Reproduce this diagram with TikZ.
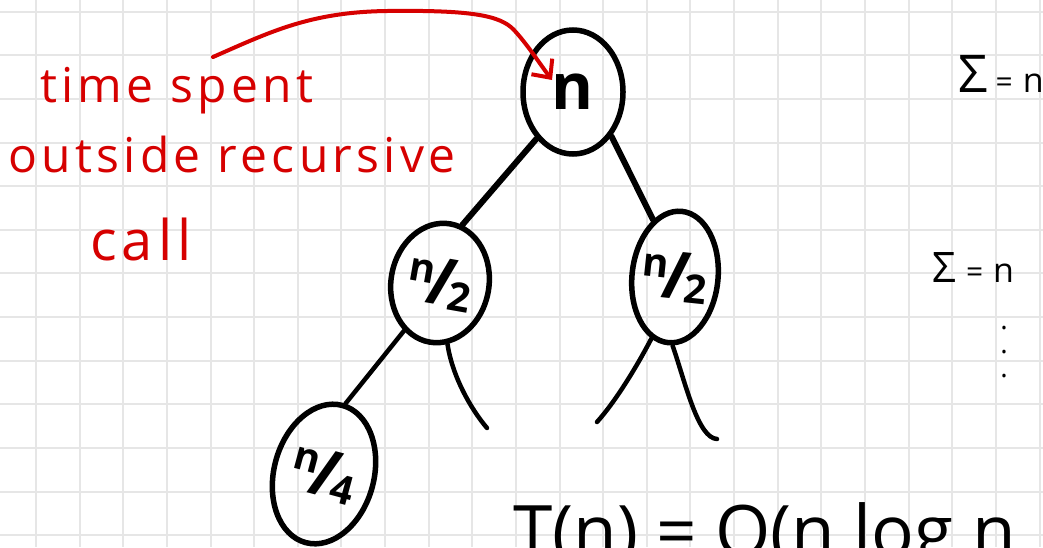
\documentclass[tikz,border=0pt]{standalone}
\usepackage{fontspec}
\setmainfont{Open Sans}
\newfontfamily\handfont[LetterSpace=9]{Open Sans}
\usetikzlibrary{arrows.meta, shapes.geometric}
\definecolor{penred}{RGB}{214,0,0}
\definecolor{gridgray}{RGB}{230,230,230}
\newcommand{\slashfrac}[2]{\makebox[0pt]{\raisebox{0.32em}{\fontsize{40}{40}\selectfont #1}\kern-0.08em{\fontsize{66}{66}\selectfont /}\kern-0.08em\raisebox{-0.04em}{\fontsize{40}{40}\selectfont #2}}}

\begin{document}
\begin{tikzpicture}[x=1pt, y=-1pt,
    vertex/.style={ellipse, draw, line width=5.5pt, inner sep=0pt,
        font=\bfseries\fontsize{64}{64}\selectfont},
    edge/.style={line width=6pt, line cap=round},
    twig/.style={line width=4.5pt, line cap=round},
    note/.style={anchor=base west, inner sep=0pt, text=penred,
        font=\handfont\fontsize{48}{48}\selectfont},
    callout/.style={-{Straight Barb[length=14pt, width=26pt]}, line width=4pt,
        color=penred, line cap=round},
    gridline/.style={gridgray, line width=2pt}
]
\useasboundingbox (0,0) rectangle (1043,547);
\clip (0,0) rectangle (1043,547);
\fill[white] (0,0) rectangle (1043,547);
\foreach \i in {0,...,23} \draw[gridline] ({36+43.63*\i},0) -- ({36+43.63*\i},547);
\foreach \j in {0,...,12} \draw[gridline] (0,{11.7+43.63*\j}) -- (1043,{11.7+43.63*\j});

% recursion tree
\node[vertex, minimum width=100pt, minimum height=124pt] (root) at (573,92) {n};
\node[vertex, minimum width=98pt, minimum height=120pt, rotate=-10] (left) at (440,283) {\slashfrac{n}{2}};
\node[vertex, minimum width=86pt, minimum height=132pt, rotate=-6] (right) at (675,277) {\slashfrac{n}{2}};
\node[vertex, minimum width=100pt, minimum height=142pt, rotate=-15] (quarter) at (324,474) {\slashfrac{n}{4}};

\coordinate (leafLR) at (487,428);
\coordinate (leafRL) at (597,422);
\coordinate (leafRR) at (717,439);

\draw[edge] (root.232) -- (left.79);
\draw[edge] (root.311) -- (right.117);
\draw[twig] (left.243) -- (quarter.88);
\draw[twig] (left.287) .. controls (452,375) and (470,408) .. (leafLR);
\draw[twig] (right.255) .. controls (636,368) and (615,402) .. (leafRL);
\draw[twig] (right.274) .. controls (686,385) and (698,438) .. (leafRR);

% red note
\node[note] (line1) at (40,102) {time spent};
\node[note] (line2) at (8,172) {outside recursive};
\node[note, font=\handfont\fontsize{56}{56}\selectfont] (line3) at (90,260) {call};

\coordinate (tail) at (213,57);
\coordinate (tip) at (552,80);
\draw[callout] (tail) .. controls (270,32) and (310,12) .. (387,11)
    .. controls (470,10) and (500,15) .. (514,30)
    .. controls (527,44) and (540,64) .. (tip);

% level sums
\node[anchor=base west, inner sep=0pt] (sum1) at (958,92)
    {{\fontsize{52}{52}\selectfont Σ}\hspace{8pt}{\fontsize{30}{30}\selectfont =}\hspace{10pt}{\fontsize{34}{34}\selectfont n}};
\node[anchor=base west, inner sep=0pt] (sum2) at (932,282)
    {{\fontsize{42}{42}\selectfont Σ}\hspace{10pt}{\fontsize{30}{30}\selectfont =}\hspace{10pt}{\fontsize{34}{34}\selectfont n}};
\node[align=center, inner sep=0pt, font=\fontsize{28}{24}\selectfont] (dots) at (1004,352) {.\\.\\.};

% total
\node[anchor=base west, inner sep=0pt, font=\fontsize{71}{71}\selectfont] (bound) at (513,556) {T(n) = O(n log n};
\end{tikzpicture}
\end{document}
